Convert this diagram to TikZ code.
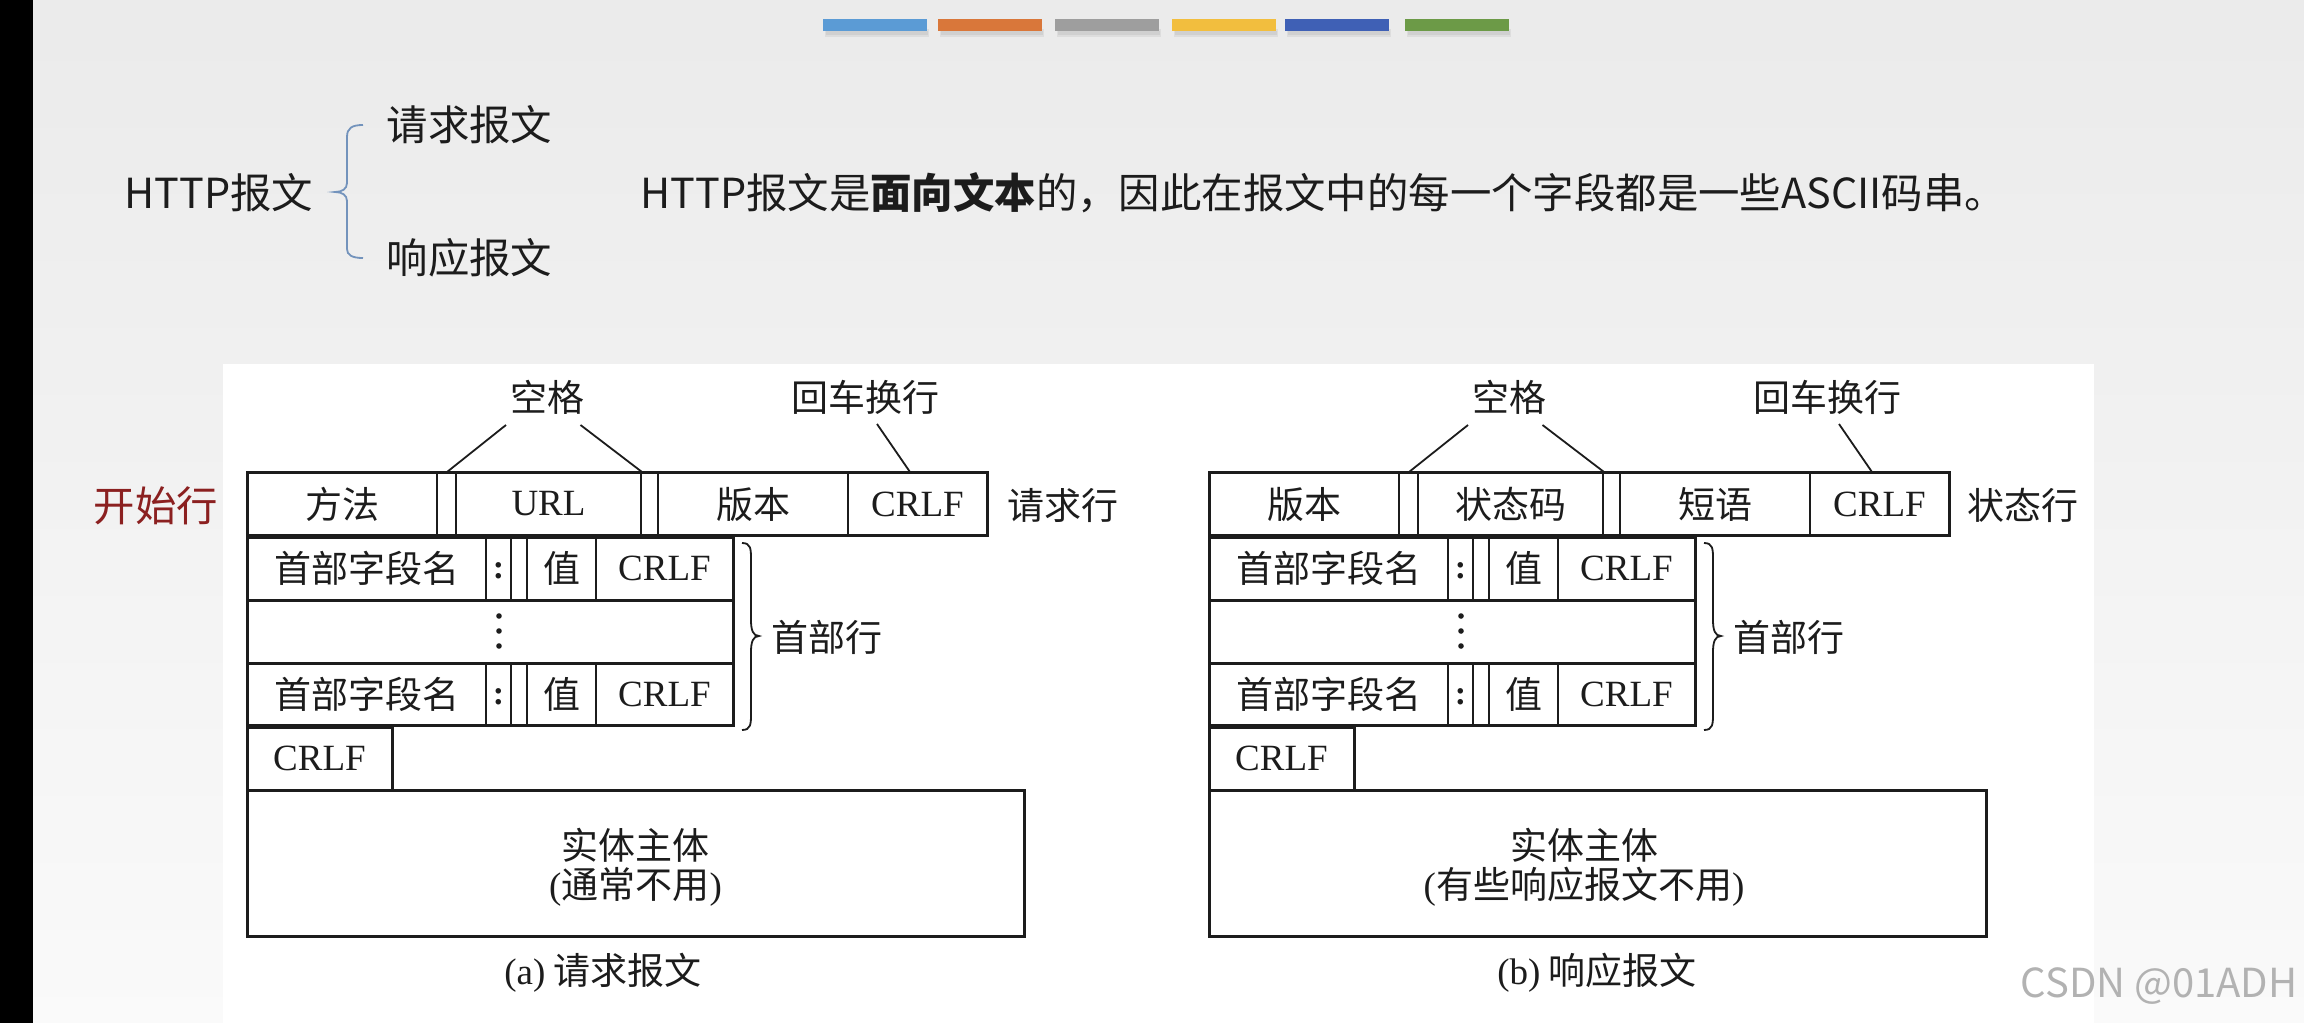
\documentclass[tikz,border=0pt]{standalone}
\usepackage{fontspec}
\setmainfont{Noto Sans CJK SC}
\newfontfamily\tnr{Liberation Serif}
\definecolor{barA}{HTML}{5B9BD5}
\definecolor{barB}{HTML}{D9773A}
\definecolor{barC}{HTML}{9E9E9E}
\definecolor{barD}{HTML}{F2BE3E}
\definecolor{barE}{HTML}{3F60B5}
\definecolor{barF}{HTML}{6C9A47}
\definecolor{startred}{HTML}{8B2020}
\definecolor{bracecol}{HTML}{7393BC}
\definecolor{ink}{HTML}{1C1C1C}
\begin{document}
\begin{tikzpicture}[x=0.5pt,y=-0.5pt,
  outer/.style={draw=ink,line width=1.5pt},
  inner/.style={draw=ink,line width=0.9pt},
  conn/.style={draw=ink,line width=0.9pt},
  lbl/.style={font=\fontsize{18.5}{22}\selectfont,text=ink,inner sep=0pt},
  lat/.style={font=\tnr\fontsize{18.5}{22}\selectfont,text=ink,inner sep=0pt},
  colon/.style={font=\tnr\bfseries\fontsize{17}{20}\selectfont,text=ink,inner sep=0pt},
  big/.style={font=\fontsize{20.7}{24}\selectfont,text=ink,inner sep=0pt},
  dotm/.style={fill=ink},
]
\useasboundingbox (0,0) rectangle (2304,1023);
% background
\shade[top color=black!8,bottom color=black!2] (0,0) rectangle (2304,1023);
\fill[white] (223,364) rectangle (2094,1023);
\fill[black] (0,0) rectangle (33,1023);
% colour bars with soft shadow
\foreach \xa/\c in {823/barA,938/barB,1055/barC,1172/barD,1285/barE,1405/barF}{
  \fill[black,opacity=0.06] (\xa+2,29) rectangle (\xa+106,37);
  \fill[black,opacity=0.06] (\xa+3,31) rectangle (\xa+105,35);
  \fill[\c] (\xa,19) rectangle (\xa+104,31);
}
% top texts
\node[big] (http) at (219,192.5) {HTTP报文};
\node[big] (req) at (469.5,125) {请求报文};
\node[big] (resp) at (469.5,258) {响应报文};
\coordinate (bt) at (363,125);
\coordinate (bb) at (363,258);
\coordinate (btip) at (335,192);
\draw[draw=bracecol,line width=0.9pt] (bt) .. controls (352,125) and (347,128) .. (347,137) -- (347,183)
  .. controls (347,189) and (342,192) .. (btip) .. controls (342,192) and (347,195) .. (347,201)
  -- (347,249) .. controls (347,255) and (352,258) .. (bb);
\node[big,anchor=west] (sent) at (640,192.5) {HTTP报文是\textbf{面向文本}的，因此在报文中的每一个字段都是一些ASCII码串。};
\node[big,text=startred] (start) at (156,506) {开始行};

% ================= (a) request =================
\draw[outer] (247,472) rectangle (987,535);
\foreach \xx in {437,456,641,658,848}{\draw[inner] (\xx,472) -- (\xx,535);}
\node[lbl] (a-method) at (342,504) {方法};
\node[lat] (a-url) at (548.5,504) {URL};
\node[lbl] (a-ver) at (753,504) {版本};
\node[lat] (a-crlf0) at (917.5,504) {CRLF};
\node[lbl] (a-reqline) at (1063,505) {请求行};
\node[lbl] (a-space) at (547.5,397) {空格};
\node[lbl] (a-crlfl) at (865,397) {回车换行};
\coordinate (a-s1t) at (506,425); \coordinate (a-s1b) at (447,472);
\coordinate (a-s2t) at (580.5,425); \coordinate (a-s2b) at (642,472);
\coordinate (a-crt) at (877,424); \coordinate (a-crb) at (910,472);
\draw[conn] (a-s1t) -- (a-s1b);
\draw[conn] (a-s2t) -- (a-s2b);
\draw[conn] (a-crt) -- (a-crb);
% header rows
\draw[outer] (247,537) rectangle (733,725);
\draw[outer] (247,600) -- (733,600);
\draw[outer] (247,663) -- (733,663);
\foreach \xx in {486,511,527,596}{\draw[inner] (\xx,537) -- (\xx,600); \draw[inner] (\xx,663) -- (\xx,725);}
\node[lbl] (a-h1n) at (366.5,568.5) {首部字段名};
\node[colon] (a-h1c) at (498.5,571) {:};
\node[lbl] (a-h1v) at (561.5,568.5) {值};
\node[lat] (a-h1r) at (664.5,568.5) {CRLF};
\node[lbl] (a-h3n) at (366.5,694) {首部字段名};
\node[colon] (a-h3c) at (498.5,696.5) {:};
\node[lbl] (a-h3v) at (561.5,694) {值};
\node[lat] (a-h3r) at (664.5,694) {CRLF};
\foreach \yy in {616,631,646}{\fill[dotm] (499,\yy) circle (2.8);}
\draw[conn] (742,543) .. controls (751,543) and (751,549) .. (751,560) -- (751,620)
  .. controls (751,630) and (753,636) .. (759,636) .. controls (753,636) and (751,642) .. (751,652)
  -- (751,713) .. controls (751,724) and (751,730) .. (742,730);
\node[lbl] (a-hdr) at (827,637) {首部行};
% CRLF and entity
\draw[outer] (247,727) rectangle (392,790);
\node[lat] (a-crlf2) at (319.5,758.5) {CRLF};
\draw[outer] (247,790) rectangle (1024,936);
\node[lbl] (a-ent1) at (635.5,845) {实体主体};
\node[lbl] (a-ent2) at (635.5,887) {{\tnr(}通常不用{\tnr)}};
\node[lbl] (a-cap) at (603,973) {{\tnr(a)} 请求报文};

% ================= (b) response =================
\draw[outer] (1209,472) rectangle (1949,535);
\foreach \xx in {1399,1418,1603,1620,1810}{\draw[inner] (\xx,472) -- (\xx,535);}
\node[lbl] (b-ver) at (1304,504) {版本};
\node[lbl] (b-code) at (1510.5,504) {状态码};
\node[lbl] (b-phr) at (1715,504) {短语};
\node[lat] (b-crlf0) at (1879.5,504) {CRLF};
\node[lbl] (b-stline) at (2023,505) {状态行};
\node[lbl] (b-space) at (1509.5,397) {空格};
\node[lbl] (b-crlfl) at (1827,397) {回车换行};
\coordinate (b-s1t) at (1468,425); \coordinate (b-s1b) at (1409,472);
\coordinate (b-s2t) at (1542.5,425); \coordinate (b-s2b) at (1604,472);
\coordinate (b-crt) at (1839,424); \coordinate (b-crb) at (1872,472);
\draw[conn] (b-s1t) -- (b-s1b);
\draw[conn] (b-s2t) -- (b-s2b);
\draw[conn] (b-crt) -- (b-crb);
\draw[outer] (1209,537) rectangle (1695,725);
\draw[outer] (1209,600) -- (1695,600);
\draw[outer] (1209,663) -- (1695,663);
\foreach \xx in {1448,1473,1489,1558}{\draw[inner] (\xx,537) -- (\xx,600); \draw[inner] (\xx,663) -- (\xx,725);}
\node[lbl] (b-h1n) at (1328.5,568.5) {首部字段名};
\node[colon] (b-h1c) at (1460.5,571) {:};
\node[lbl] (b-h1v) at (1523.5,568.5) {值};
\node[lat] (b-h1r) at (1626.5,568.5) {CRLF};
\node[lbl] (b-h3n) at (1328.5,694) {首部字段名};
\node[colon] (b-h3c) at (1460.5,696.5) {:};
\node[lbl] (b-h3v) at (1523.5,694) {值};
\node[lat] (b-h3r) at (1626.5,694) {CRLF};
\foreach \yy in {616,631,646}{\fill[dotm] (1461,\yy) circle (2.8);}
\draw[conn] (1704,543) .. controls (1713,543) and (1713,549) .. (1713,560) -- (1713,620)
  .. controls (1713,630) and (1715,636) .. (1721,636) .. controls (1715,636) and (1713,642) .. (1713,652)
  -- (1713,713) .. controls (1713,724) and (1713,730) .. (1704,730);
\node[lbl] (b-hdr) at (1789,637) {首部行};
\draw[outer] (1209,727) rectangle (1354,790);
\node[lat] (b-crlf2) at (1281.5,758.5) {CRLF};
\draw[outer] (1209,790) rectangle (1986,936);
\node[lbl] (b-ent1) at (1584,845) {实体主体};
\node[lbl] (b-ent2) at (1584,887) {{\tnr(}有些响应报文不用{\tnr)}};
\node[lbl] (b-cap) at (1597,973) {{\tnr(b)} 响应报文};

% watermark
\node[font=\fontsize{20}{24}\selectfont,text=black!30,inner sep=0pt,anchor=east] (wm) at (2298,986) {CSDN @01ADH};
\end{tikzpicture}
\end{document}
